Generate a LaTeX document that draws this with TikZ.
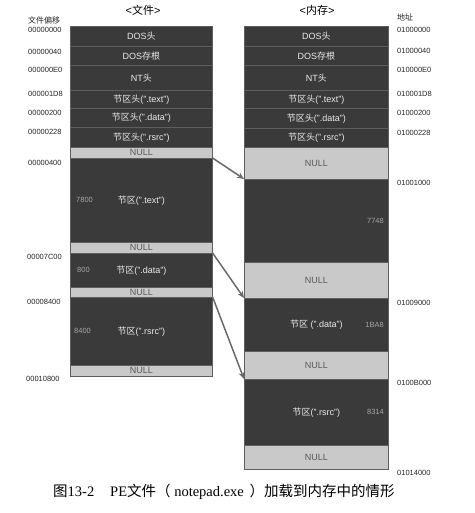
\documentclass[tikz,border=0pt]{standalone}
\usepackage{fontspec}
\setmainfont{Liberation Sans}
\newfontfamily\cjk{Noto Sans CJK SC}
\newfontfamily\capserif{Liberation Serif}
\usetikzlibrary{arrows.meta}
\newcommand{\zh}[1]{{\cjk #1}}
\definecolor{darkbox}{HTML}{3A3A3A}
\definecolor{nullbox}{HTML}{C9C9C9}
\definecolor{sepline}{HTML}{5E5E5E}
\definecolor{arrowgray}{HTML}{6A6A6A}
\tikzset{
  cell/.style={draw=sepline, line width=0.6pt, anchor=north west, inner sep=0pt,
    font=\fontsize{9}{10}\selectfont},
  darkcell/.style={cell, fill=darkbox, text=white!92!black},
  nullcell/.style={cell, fill=nullbox, text=black!65},
  offs/.style={anchor=west, inner sep=0pt, font=\fontsize{7.5}{8}\selectfont, text=black!85},
  inum/.style={inner sep=0pt, font=\fontsize{7.5}{8}\selectfont, text=white!65!black},
  hdr/.style={inner sep=0pt, font=\fontsize{11}{12}\selectfont},
  arr/.style={draw=arrowgray, line width=1.5pt, -{Stealth[length=7pt,width=6pt]}},
}
\begin{document}
\begin{tikzpicture}[x=1pt,y=-1pt]
\useasboundingbox (0,0) rectangle (474,513);
% headers
\node[hdr] (hL) at (143,10) {<\zh{文件}>};
\node[hdr] (hR) at (317,10) {<\zh{内存}>};
\node[offs, font=\fontsize{8}{9}\selectfont\cjk] (tL) at (28,20) {文件偏移};
\node[offs, font=\fontsize{8}{9}\selectfont\cjk] (tR) at (397,17) {地址};
% left column (file)
\def\lx{70}\def\lw{142}
\node[darkcell, minimum width=\lw, minimum height=20] (L1) at (\lx,26) {DOS\zh{头}};
\node[darkcell, minimum width=\lw, minimum height=19] (L2) at (\lx,46) {DOS\zh{存根}};
\node[darkcell, minimum width=\lw, minimum height=25] (L3) at (\lx,65) {NT\zh{头}};
\node[darkcell, minimum width=\lw, minimum height=18] (L4) at (\lx,90) {\zh{节区头}(".text")};
\node[darkcell, minimum width=\lw, minimum height=19] (L5) at (\lx,108) {\zh{节区头}(".data")};
\node[darkcell, minimum width=\lw, minimum height=20] (L6) at (\lx,127) {\zh{节区头}(".rsrc")};
\node[nullcell, minimum width=\lw, minimum height=11] (L7) at (\lx,147) {NULL};
\node[darkcell, minimum width=\lw, minimum height=84] (L8) at (\lx,158) {\zh{节区}(".text")};
\node[nullcell, minimum width=\lw, minimum height=11] (L9) at (\lx,242) {NULL};
\node[darkcell, minimum width=\lw, minimum height=34] (L10) at (\lx,253) {\zh{节区}(".data")};
\node[nullcell, minimum width=\lw, minimum height=10] (L11) at (\lx,287) {NULL};
\node[darkcell, minimum width=\lw, minimum height=68] (L12) at (\lx,297) {\zh{节区}(".rsrc")};
\node[nullcell, minimum width=\lw, minimum height=11] (L13) at (\lx,365) {NULL};
\node[inum, anchor=west] (nL8) at (76,200) {7800};
\node[inum, anchor=west] (nL10) at (77,270) {800};
\node[inum, anchor=west] (nL12) at (74,331) {8400};
% right column (memory)
\def\rx{244}\def\rw{144}
\node[darkcell, minimum width=\rw, minimum height=20] (R1) at (\rx,26) {DOS\zh{头}};
\node[darkcell, minimum width=\rw, minimum height=19] (R2) at (\rx,46) {DOS\zh{存根}};
\node[darkcell, minimum width=\rw, minimum height=25] (R3) at (\rx,65) {NT\zh{头}};
\node[darkcell, minimum width=\rw, minimum height=18] (R4) at (\rx,90) {\zh{节区头}(".text")};
\node[darkcell, minimum width=\rw, minimum height=20] (R5) at (\rx,108) {\zh{节区头}(".data")};
\node[darkcell, minimum width=\rw, minimum height=19] (R6) at (\rx,128) {\zh{节区头}(".rsrc")};
\node[nullcell, minimum width=\rw, minimum height=32] (R7) at (\rx,147) {NULL};
\node[darkcell, minimum width=\rw, minimum height=83] (R8) at (\rx,179) {};
\node[nullcell, minimum width=\rw, minimum height=36] (R9) at (\rx,262) {NULL};
\node[darkcell, minimum width=\rw, minimum height=53] (R10) at (\rx,298) {\zh{节区} (".data")};
\node[nullcell, minimum width=\rw, minimum height=28] (R11) at (\rx,351) {NULL};
\node[darkcell, minimum width=\rw, minimum height=66] (R12) at (\rx,379) {\zh{节区}(".rsrc")};
\node[nullcell, minimum width=\rw, minimum height=24] (R13) at (\rx,445) {NULL};
\node[inum, anchor=east] (nR8) at (384,221) {7748};
\node[inum, anchor=east] (nR10) at (384,325) {1BA8};
\node[inum, anchor=east] (nR12) at (384,412) {8314};
% file offsets
\node[offs] (o1) at (28,30) {00000000};
\node[offs] (o2) at (28,52) {00000040};
\node[offs] (o3) at (28,70) {000000E0};
\node[offs] (o4) at (28,94) {000001D8};
\node[offs] (o5) at (28,113) {00000200};
\node[offs] (o6) at (28,132) {00000228};
\node[offs] (o7) at (28,163) {00000400};
\node[offs] (o8) at (27,257) {00007C00};
\node[offs] (o9) at (27,302) {00008400};
\node[offs] (o10) at (26,379) {00010800};
% memory addresses
\node[offs] (a1) at (397,30) {01000000};
\node[offs] (a2) at (397,51) {01000040};
\node[offs] (a3) at (397,70) {010000E0};
\node[offs] (a4) at (397,94) {010001D8};
\node[offs] (a5) at (397,113) {01000200};
\node[offs] (a6) at (397,133) {01000228};
\node[offs] (a7) at (397,183) {01001000};
\node[offs] (a8) at (397,303) {01009000};
\node[offs] (a9) at (397,383) {0100B000};
\node[offs] (a10) at (397,473) {01014000};
% mapping arrows
\draw[arr] (L8.north east) -- (R8.north west);
\draw[arr] (L10.north east) -- (R10.north west);
\draw[arr] (L12.north east) -- (R12.north west);
% caption
\node[inner sep=0pt, anchor=west, font=\fontsize{14.5}{16}\selectfont] (cap) at (53,492)
  {\zh{图}\capserif 13-2\hspace{1.1em}PE\zh{文件（}\hspace{0.25em}notepad.exe\hspace{0.4em}\zh{）加载到内存中的情形}};
\end{tikzpicture}
\end{document}
